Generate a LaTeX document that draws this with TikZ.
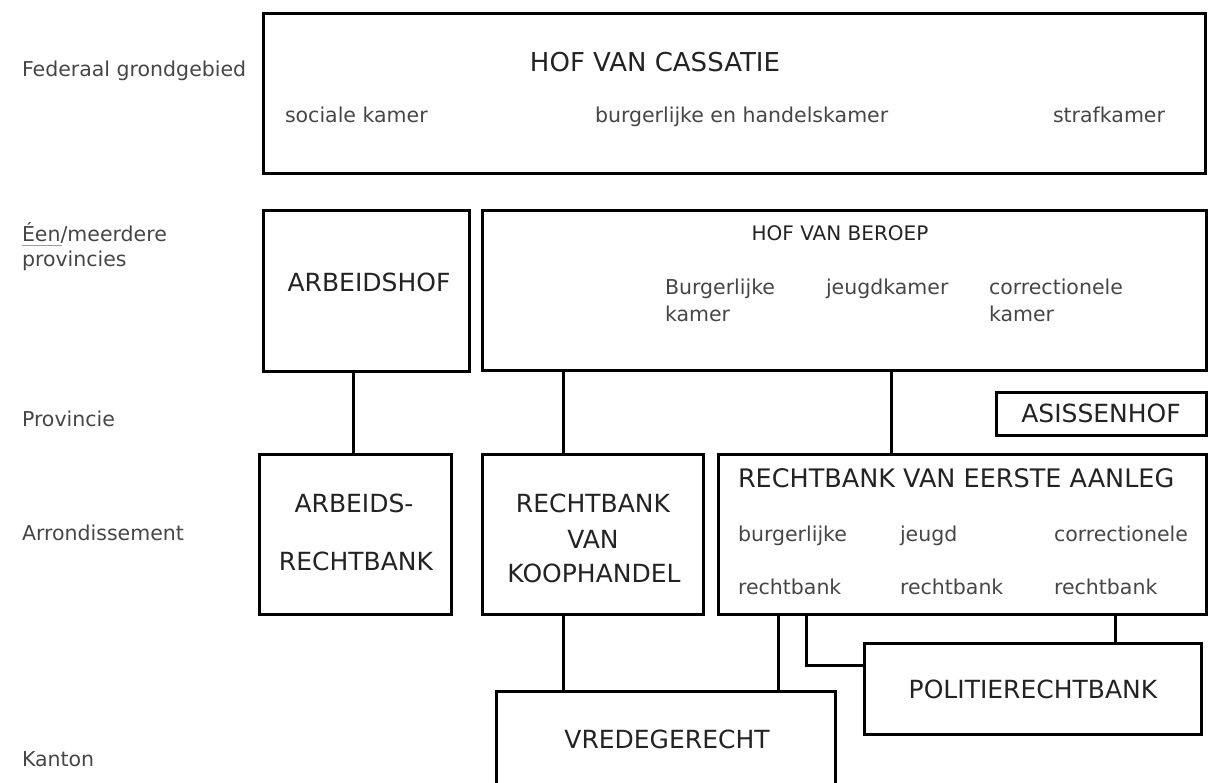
\documentclass[tikz,border=0pt]{standalone}
\usepackage{fontspec}
\setmainfont{DejaVu Sans}

\definecolor{dark-grey}{RGB}{35, 35, 35}
\definecolor{mid-grey}{RGB}{70, 70, 70}
\definecolor{spell-red}{RGB}{225, 130, 130}

\begin{document}
\begin{tikzpicture}[
        x=1pt, y=-1pt,
        every node/.style={inner sep=0pt, outer sep=0pt},
        court/.style={draw, line width=3pt, anchor=north west},
        title/.style={text=dark-grey, font=\fontsize{25}{30}\selectfont, anchor=base},
        chamber/.style={text=mid-grey, font=\fontsize{20.5}{26}\selectfont, anchor=base west},
        tier/.style={text=mid-grey, font=\fontsize{20.5}{25}\selectfont, anchor=base west},
        link/.style={line width=3pt},
    ]
    \useasboundingbox (0,0) rectangle (1211,783);
    \clip (0,0) rectangle (1211,783);

    % levels on the left
    \node[tier] (federaal) at (22,77) {Federaal grondgebied};
    \node[tier] (provincies-1) at (22,242) {Éen/meerdere};
    \node[tier] (provincies-2) at (22,267) {provincies};
    \node[tier] (provincie) at (22,427) {Provincie};
    \node[tier] (arrondissement) at (22,540) {Arrondissement};
    \node[tier] (kanton) at (22,766) {Kanton};
    \draw[spell-red, line width=1pt] (22,246) -- (62,246);

    % courts
    \node[court, minimum width=942, minimum height=160] (cassatie) at (263.5,13.5) {};
    \node[court, minimum width=206, minimum height=161] (arbeidshof) at (263.5,210.5) {};
    \node[court, minimum width=724, minimum height=160] (beroep) at (482.5,210.5) {};
    \node[court, minimum width=210, minimum height=43] (assisen) at (996.5,392.5) {};
    \node[court, minimum width=192, minimum height=160] (arbeidsrb) at (259.5,454.5) {};
    \node[court, minimum width=221, minimum height=160] (koophandel) at (482.5,454.5) {};
    \node[court, minimum width=488, minimum height=160] (eerste) at (718.5,454.5) {};
    \node[court, minimum width=337, minimum height=91] (politie) at (864.5,643.5) {};
    \node[court, minimum width=339, minimum height=120] (vrede) at (496.5,691.5) {};

    % texts in the courts
    \node[title, font=\fontsize{26}{30}\selectfont] (cassatie-t) at (655,72) {HOF VAN CASSATIE};
    \node[chamber] (sociaal) at (285,123) {sociale kamer};
    \node[chamber] (handel) at (595,123) {burgerlijke en handelskamer};
    \node[chamber] (straf) at (1053,123) {strafkamer};

    \node[title] (arbeidshof-t) at (369,292) {ARBEIDSHOF};

    \node[title, font=\fontsize{20}{24}\selectfont] (beroep-t) at (840,241) {HOF VAN BEROEP};
    \node[chamber] (beroep-b1) at (665,295) {Burgerlijke};
    \node[chamber] (beroep-b2) at (665,322) {kamer};
    \node[chamber] (beroep-j) at (826,295) {jeugdkamer};
    \node[chamber] (beroep-c1) at (989,295) {correctionele};
    \node[chamber] (beroep-c2) at (989,322) {kamer};

    \node[title] (assisen-t) at (1101,423) {ASISSENHOF};

    \node[title] (arbeidsrb-t1) at (354,512) {ARBEIDS-};
    \node[title] (arbeidsrb-t2) at (356,570) {RECHTBANK};

    \node[title] (koophandel-t1) at (593,512) {RECHTBANK};
    \node[title] (koophandel-t2) at (593,548) {VAN};
    \node[title] (koophandel-t3) at (594,582) {KOOPHANDEL};

    \node[title, anchor=base west, font=\fontsize{25.5}{30}\selectfont] (eerste-t) at (738,488) {RECHTBANK VAN EERSTE AANLEG};
    \node[chamber] (eerste-b1) at (738,542) {burgerlijke};
    \node[chamber] (eerste-b2) at (738,594) {rechtbank};
    \node[chamber] (eerste-j1) at (900,542) {jeugd};
    \node[chamber] (eerste-j2) at (900,594) {rechtbank};
    \node[chamber] (eerste-c1) at (1054,542) {correctionele};
    \node[chamber] (eerste-c2) at (1054,594) {rechtbank};

    \node[title] (politie-t) at (1033,698) {POLITIERECHTBANK};
    \node[title] (vrede-t) at (667,748) {VREDEGERECHT};

    % links
    \draw[link] (arbeidshof.south -| 353,0) -- (arbeidsrb.north -| 353,0);
    \draw[link] (beroep.south -| 563,0) -- (koophandel.north -| 563,0);
    \draw[link] (beroep.south -| 891,0) -- (eerste.north -| 891,0);
    \draw[link] (koophandel.south -| 563,0) -- (vrede.north -| 563,0);
    \draw[link] (eerste.south -| 778,0) -- (vrede.north -| 778,0);
    \draw[link] (eerste.south -| 806,0) |- (politie.west |- 0,665);
    \draw[link] (eerste.south -| 1115,0) -- (politie.north -| 1115,0);
\end{tikzpicture}
\end{document}
